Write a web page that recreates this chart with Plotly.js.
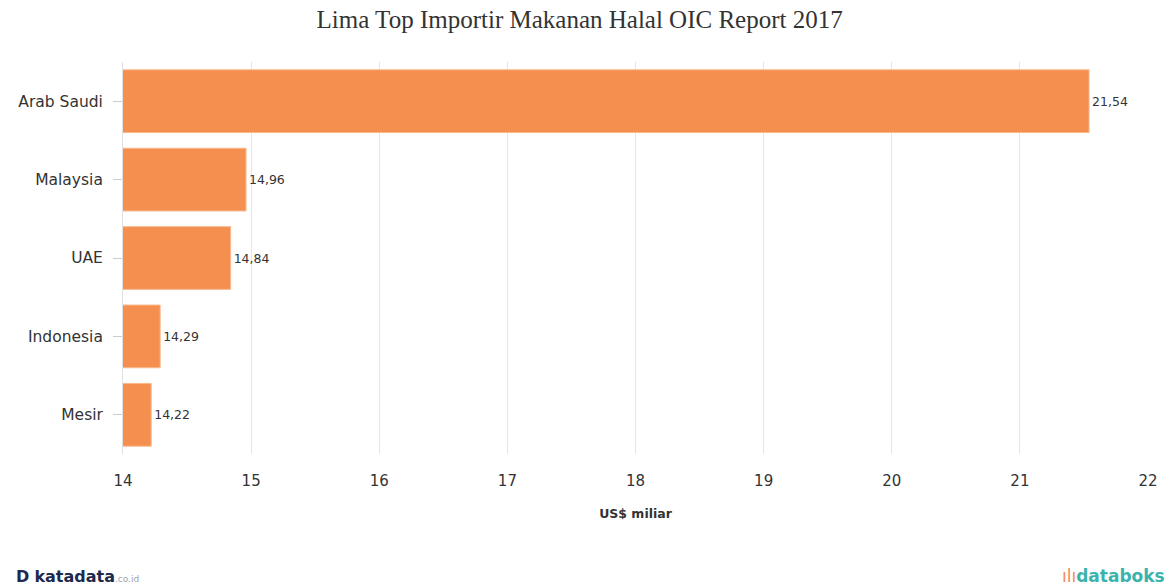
<!DOCTYPE html>
<html><head><meta charset="utf-8">
<script src="https://cdn.plot.ly/plotly-3.0.1.min.js"></script>
<style>body{margin:0;background:#fff}#c{width:1171px;height:588px}</style>
</head><body><div id="c"></div>
<script>
const countries = ["Arab Saudi", "Malaysia", "UAE", "Indonesia", "Mesir"];
const values = [21.54, 14.96, 14.84, 14.29, 14.22];
const xTicks = [14, 15, 16, 17, 18, 19, 20, 21, 22];

const trace = {
  type: 'bar', orientation: 'h',
  y: countries, x: values, base: 0,
  marker: {color: '#F48F50', line: {color: '#F9B88C', width: 1}},
  text: values.map(v => v.toFixed(2).replace('.', ',')),
  textposition: 'outside', cliponaxis: false,
  textfont: {family: 'DejaVu Sans, Verdana, sans-serif', size: 12.5, color: '#333'},
  hoverinfo: 'none'
};
const layout = {
  width: 1171, height: 588,
  margin: {l: 123, r: 23, t: 62, b: 134},
  paper_bgcolor: '#fff', plot_bgcolor: '#fff',
  separators: ',.',
  showlegend: false,
  bargap: 0.2,
  title: {text: 'Lima Top Importir Makanan Halal OIC Report 2017', x: 0.495, xanchor: 'center', y: 0.967, yanchor: 'middle',
    font: {family: 'Liberation Serif, Times New Roman, serif', size: 25, color: '#333'}},
  xaxis: {range: [14, 22], tickvals: xTicks, ticktext: xTicks.map(String),
    showgrid: true, gridcolor: '#e6e6e6', zeroline: false, showline: false, ticks: '',
    tickfont: {family: 'DejaVu Sans, Verdana, sans-serif', size: 15, color: '#333'},
    ticklabelstandoff: 16,
    title: {text: '<b>US$ miliar</b>', standoff: 20, font: {family: 'DejaVu Sans, Verdana, sans-serif', size: 12.5, color: '#333'}}},
  yaxis: {autorange: 'reversed', showgrid: false, showline: true, linecolor: '#e0e0e0', linewidth: 1,
    ticks: 'outside', ticklen: 9, tickcolor: '#cccccc', ticklabelstandoff: 7,
    tickfont: {family: 'DejaVu Sans, Verdana, sans-serif', size: 15.5, color: '#333'}},
  annotations: [
    {xref: 'paper', yref: 'paper', x: -0.106, y: -0.312, xanchor: 'left', yanchor: 'middle', showarrow: false,
     text: '<b>D</b> <b>katadata</b><span style="font-size:9px;color:#9aa3ad">.co.id</span>',
     font: {family: 'DejaVu Sans, sans-serif', size: 16, color: '#1d2a4e'}},
    {xref: 'paper', yref: 'paper', x: 1.019, y: -0.312, xanchor: 'right', yanchor: 'middle', showarrow: false,
     text: '<span style="color:#f08a5a">ılı</span><b>databoks</b>',
     font: {family: 'DejaVu Sans, sans-serif', size: 17, color: '#3bb3ad'}}
  ]
};
Plotly.newPlot('c', [trace], layout, {displayModeBar: false, staticPlot: true});
</script></body></html>
